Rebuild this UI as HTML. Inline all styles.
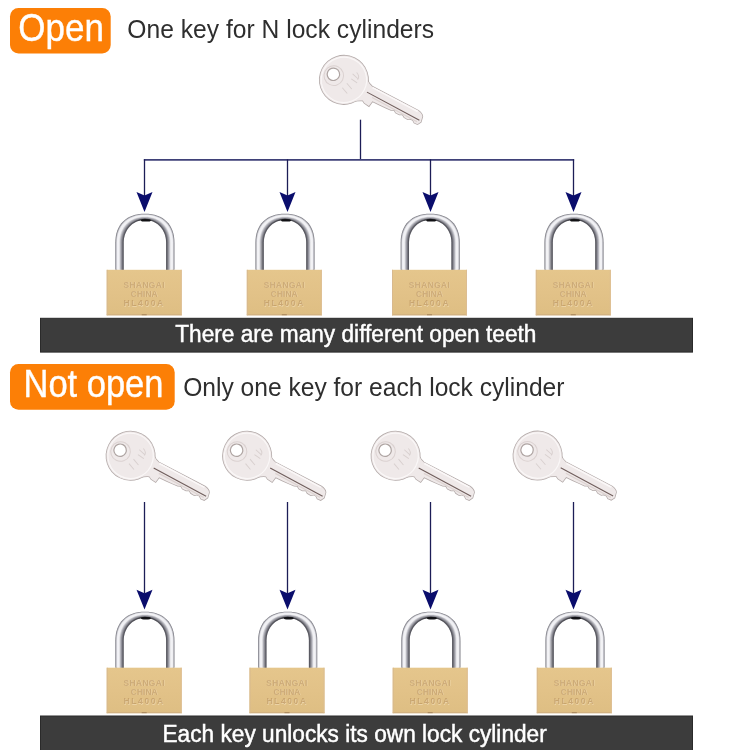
<!DOCTYPE html>
<html><head><meta charset="utf-8">
<style>
html,body{margin:0;padding:0;background:#fff;width:750px;height:750px;overflow:hidden}
svg{display:block;will-change:transform}
text{font-family:"Liberation Sans",sans-serif}
</style></head><body>
<svg width="750" height="750" viewBox="0 0 750 750">
<defs>
 <linearGradient id="brass" x1="0" x2="0" y1="0" y2="1">
  <stop offset="0" stop-color="#e5c68c"/>
  <stop offset="0.5" stop-color="#e2c288"/>
  <stop offset="1" stop-color="#debe83"/>
 </linearGradient>
 <linearGradient id="inedge" gradientUnits="userSpaceOnUse" x1="-22" x2="22" y1="0" y2="0">
  <stop offset="0" stop-color="#55555e" stop-opacity="0.35"/>
  <stop offset="0.3" stop-color="#45454c" stop-opacity="0.7"/>
  <stop offset="0.5" stop-color="#1a1a1e" stop-opacity="1"/>
  <stop offset="0.7" stop-color="#45454c" stop-opacity="0.7"/>
  <stop offset="1" stop-color="#55555e" stop-opacity="0.35"/>
 </linearGradient>
 <filter id="soft" x="-10%" y="-10%" width="120%" height="120%"><feGaussianBlur stdDeviation="0.5"/></filter>
 <g id="lock">
  <g transform="translate(0.7,0)"><path d="M-29.60,56 L-29.60,29.00 C-29.60,10.73 -18.65,0.00 0,0.00 C18.65,0.00 29.60,10.73 29.60,29.00 L29.60,56 Z" fill="#7e7e86"/>
  <path d="M-29.08,56 L-29.08,28.97 C-29.08,11.08 -18.19,0.38 0,0.38 C18.19,0.38 29.08,11.08 29.08,28.97 L29.08,56 Z" fill="#a4a4ab"/>
  <path d="M-28.55,56 L-28.55,28.94 C-28.55,11.43 -17.74,0.75 0,0.75 C17.74,0.75 28.55,11.43 28.55,28.94 L28.55,56 Z" fill="#d1d1d6"/>
  <path d="M-28.03,56 L-28.03,28.91 C-28.03,11.77 -17.29,1.12 0,1.12 C17.29,1.12 28.03,11.77 28.03,28.91 L28.03,56 Z" fill="#f0f0f4"/>
  <path d="M-27.50,56 L-27.50,28.88 C-27.50,12.11 -16.84,1.50 0,1.50 C16.84,1.50 27.50,12.11 27.50,28.88 L27.50,56 Z" fill="#f1f1f5"/>
  <path d="M-26.98,56 L-26.98,28.84 C-26.98,12.44 -16.40,1.88 0,1.88 C16.40,1.88 26.98,12.44 26.98,28.84 L26.98,56 Z" fill="#f2f2f5"/>
  <path d="M-26.45,56 L-26.45,28.81 C-26.45,12.78 -15.97,2.25 0,2.25 C15.97,2.25 26.45,12.78 26.45,28.81 L26.45,56 Z" fill="#f3f3f6"/>
  <path d="M-25.93,56 L-25.93,28.78 C-25.93,13.10 -15.54,2.62 0,2.62 C15.54,2.62 25.93,13.10 25.93,28.78 L25.93,56 Z" fill="#ededf0"/>
  <path d="M-25.40,56 L-25.40,28.75 C-25.40,13.43 -15.11,3.00 0,3.00 C15.11,3.00 25.40,13.43 25.40,28.75 L25.40,56 Z" fill="#d7d7db"/>
  <path d="M-24.88,56 L-24.88,28.72 C-24.88,13.75 -14.69,3.38 0,3.38 C14.69,3.38 24.88,13.75 24.88,28.72 L24.88,56 Z" fill="#c0c0c7"/>
  <path d="M-24.35,56 L-24.35,28.69 C-24.35,14.07 -14.28,3.75 0,3.75 C14.28,3.75 24.35,14.07 24.35,28.69 L24.35,56 Z" fill="#aaaab2"/>
  <path d="M-23.83,56 L-23.83,28.66 C-23.83,14.38 -13.86,4.12 0,4.12 C13.86,4.12 23.83,14.38 23.83,28.66 L23.83,56 Z" fill="#9999a1"/>
  <path d="M-23.30,56 L-23.30,28.62 C-23.30,14.69 -13.46,4.50 0,4.50 C13.46,4.50 23.30,14.69 23.30,28.62 L23.30,56 Z" fill="#87878f"/>
  <path d="M-22.78,56 L-22.78,28.59 C-22.78,15.00 -13.05,4.88 0,4.88 C13.05,4.88 22.78,15.00 22.78,28.59 L22.78,56 Z" fill="#76767e"/>
  <path d="M-22.25,56 L-22.25,28.56 C-22.25,15.30 -12.65,5.25 0,5.25 C12.65,5.25 22.25,15.30 22.25,28.56 L22.25,56 Z" fill="#65656d"/>
  <path d="M-21.73,56 L-21.73,28.53 C-21.73,15.60 -12.26,5.62 0,5.62 C12.26,5.62 21.73,15.60 21.73,28.53 L21.73,56 Z" fill="#54545c"/>
  <path d="M-21.20,56.5 L-21.20,28.50 C-21.20,15.90 -11.87,6.00 0,6.00 C11.87,6.00 21.20,15.90 21.20,28.50 L21.20,56.5 Z" fill="#fff"/>
  <path d="M-21.80,56 L-21.80,28.50 C-21.80,15.68 -12.21,5.60 0,5.60 C12.21,5.60 21.80,15.68 21.80,28.50 L21.80,56" fill="none" stroke="url(#inedge)" stroke-width="1.3"/></g>
  <ellipse cx="1.7" cy="6.6" rx="5" ry="1.2" fill="#111114"/>
  <rect x="-37.5" y="56" width="75" height="45.5" fill="url(#brass)"/>
  <rect x="-37.5" y="100.6" width="75" height="0.9" fill="#cdad80"/>
  <rect x="-2.5" y="100.3" width="5" height="1.2" fill="#9c7c52" opacity="0.7"/>
  <rect x="-37.5" y="56" width="1" height="45.5" fill="#d8b98e"/>
  <rect x="36.5" y="56" width="1" height="45.5" fill="#dcbd92"/>
  <g font-family="Liberation Sans" font-weight="bold" font-size="8.5" text-anchor="middle" filter="url(#soft)">
   <g fill="#f8e8c8" opacity="0.5" transform="translate(0.5,0.5)">
   <text x="0" y="74" letter-spacing="0.3">SHANGAI</text>
   <text x="0" y="83" letter-spacing="0">CHINA</text>
   <text x="0" y="92.5" letter-spacing="1.6">HL400A</text>
   </g>
   <g fill="#b58c58" opacity="0.55">
   <text x="0" y="74" letter-spacing="0.3">SHANGAI</text>
   <text x="0" y="83" letter-spacing="0">CHINA</text>
   <text x="0" y="92.5" letter-spacing="1.6">HL400A</text>
   </g>
  </g>
 </g>
 <g id="kshape">
  <circle cx="11.9" cy="0.3" r="24.2"/>
  <path d="M25,-18.00 Q33,-8.00 40,-6.50 L92,-5.50 Q97,-4.78 98.5,-2.04 L99.5,3.49 L97.5,6.94 L94,7.15 L91.5,5.29 L88.5,5.41 L86.5,6.96 L82.5,6.66 L80,5.00 L77,6.52 L73,6.42 L70.5,4.76 L67.5,6.09 L62,6.35 L55,6.58 L47,6.67 L46,12.55 L40.6,11.82 L38,10.30 Q35,11.50 30,14.70 L25,15.00 Z"/>
 </g>
 <g id="key">
  <use href="#kshape" fill="#b3aaa9" stroke="#b3aaa9" stroke-width="1.5"/>
  <use href="#kshape" fill="#efe9e9"/>
  <circle cx="11.9" cy="0.3" r="22.7" fill="none" stroke="#faf7f7" stroke-width="1.2"/>
  <path d="M41,-5.6 L92,-4.5" stroke="#fbf8f8" stroke-width="1.6"/>
  <path d="M38,0.9 L97.5,2.64" stroke="#705e5c" stroke-width="1.1"/>
  <path d="M45,3.4 L96,4.9" stroke="#ddd3d1" stroke-width="1.2"/>
  <circle cx="1" cy="1" r="9.8" fill="none" stroke="#d6cccb" stroke-width="1" opacity="0.8"/>
  <circle cx="0" cy="0" r="6.2" fill="#fff" stroke="#aea4a2" stroke-width="1.2"/>
  <g stroke="#c8bebc" stroke-width="0.9" fill="none" opacity="0.6">
   <path d="M17,-9 L24,-7 M18,-4 L25,-3 M16,2 L23,5 M20,-12 Q25,-10 24,-6 M14,8 L21,11"/>
  </g>
 </g>
</defs>
<rect x="10" y="8" width="100.7" height="45.6" rx="8.5" fill="#fc7f06"/>
<text transform="translate(18.3,41.2) scale(1,1.13)" font-size="35" fill="#fff" stroke="#fff" stroke-width="0.35">Open</text>
<text transform="translate(127.3,38.3) scale(0.986,1.04)" font-size="25" fill="#2e2e2e">One key for N lock cylinders</text>
<use href="#key" transform="translate(333.4,74.3) rotate(26.6)"/>
<line x1="360.5" y1="119.7" x2="360.5" y2="160" stroke="#1c1d56" stroke-width="1.3"/>
<line x1="143.85" y1="159.85" x2="574.15" y2="159.85" stroke="#3f4178" stroke-width="1.7"/>
<line x1="144.5" y1="159.3" x2="144.5" y2="196.1" stroke="#1c1d56" stroke-width="1.3"/><path d="M136.5,192.1 L144.5,195.6 L152.5,192.1 L144.5,211.9 Z" fill="#0a0d6c"/>
<line x1="287.5" y1="159.3" x2="287.5" y2="196.1" stroke="#1c1d56" stroke-width="1.3"/><path d="M279.5,192.1 L287.5,195.6 L295.5,192.1 L287.5,211.9 Z" fill="#0a0d6c"/>
<line x1="430.5" y1="159.3" x2="430.5" y2="196.1" stroke="#1c1d56" stroke-width="1.3"/><path d="M422.5,192.1 L430.5,195.6 L438.5,192.1 L430.5,211.9 Z" fill="#0a0d6c"/>
<line x1="573.5" y1="159.3" x2="573.5" y2="196.1" stroke="#1c1d56" stroke-width="1.3"/><path d="M565.5,192.1 L573.5,195.6 L581.5,192.1 L573.5,211.9 Z" fill="#0a0d6c"/>
<use href="#lock" transform="translate(144.2,213.8)"/>
<use href="#lock" transform="translate(284.3,213.8)"/>
<use href="#lock" transform="translate(429.5,213.8)"/>
<use href="#lock" transform="translate(573.3,213.8)"/>
<use href="#key" transform="translate(120.1,450.2) rotate(26.6)"/>
<line x1="144.5" y1="502" x2="144.5" y2="593.8000000000001" stroke="#1c1d56" stroke-width="1.3"/><path d="M136.5,589.8000000000001 L144.5,593.3000000000001 L152.5,589.8000000000001 L144.5,609.6 Z" fill="#0a0d6c"/>
<use href="#key" transform="translate(236.6,450.2) rotate(26.6)"/>
<line x1="287.5" y1="502" x2="287.5" y2="593.8000000000001" stroke="#1c1d56" stroke-width="1.3"/><path d="M279.5,589.8000000000001 L287.5,593.3000000000001 L295.5,589.8000000000001 L287.5,609.6 Z" fill="#0a0d6c"/>
<use href="#key" transform="translate(385.1,450.2) rotate(26.6)"/>
<line x1="430.5" y1="502" x2="430.5" y2="593.8000000000001" stroke="#1c1d56" stroke-width="1.3"/><path d="M422.5,589.8000000000001 L430.5,593.3000000000001 L438.5,589.8000000000001 L430.5,609.6 Z" fill="#0a0d6c"/>
<use href="#key" transform="translate(527.1,450.0) rotate(26.6)"/>
<line x1="573.5" y1="502" x2="573.5" y2="593.8000000000001" stroke="#1c1d56" stroke-width="1.3"/><path d="M565.5,589.8000000000001 L573.5,593.3000000000001 L581.5,589.8000000000001 L573.5,609.6 Z" fill="#0a0d6c"/>
<use href="#lock" transform="translate(144.2,611.7)"/>
<use href="#lock" transform="translate(287.0,611.7)"/>
<use href="#lock" transform="translate(430.2,611.7)"/>
<use href="#lock" transform="translate(574.3,611.7)"/>
<rect x="40.5" y="318.3" width="652" height="33.8" fill="#3c3c3c" stroke="#2a2a2a" stroke-width="1"/>
<text transform="translate(175.2,341.6) scale(0.986,1.02)" font-size="23" fill="#fff" stroke="#fff" stroke-width="0.45">There are many different open teeth</text>
<rect x="10" y="364" width="164.7" height="45.7" rx="8.5" fill="#fc7f06"/>
<text transform="translate(23.5,396.5) scale(1,1.1)" font-size="34.5" fill="#fff" stroke="#fff" stroke-width="0.35">Not open</text>
<text transform="translate(183.2,395.5) scale(0.992,1.04)" font-size="24.8" fill="#2e2e2e">Only one key for each lock cylinder</text>
<rect x="40.5" y="716" width="652" height="40" fill="#3c3c3c" stroke="#2a2a2a" stroke-width="1"/>
<text transform="translate(162.5,741.5) scale(0.986,1.02)" font-size="23" fill="#fff" stroke="#fff" stroke-width="0.45">Each key unlocks its own lock cylinder</text>
</svg>
</body></html>
